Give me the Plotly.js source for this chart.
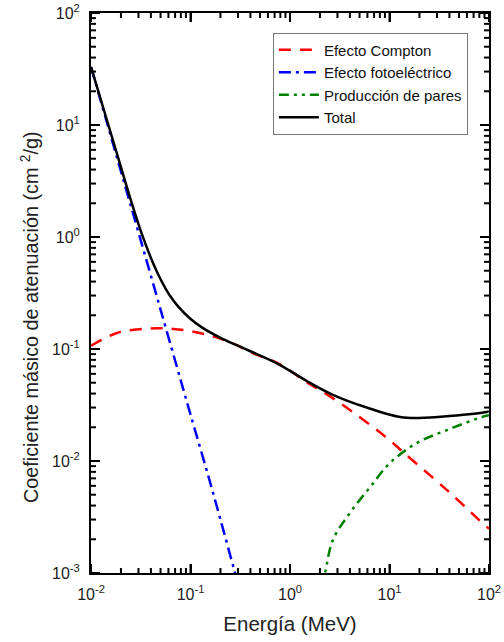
<!DOCTYPE html>
<html>
<head>
<meta charset="utf-8">
<script src="https://cdn.plot.ly/plotly-3.0.1.min.js"></script>
<style>html,body{margin:0;padding:0;background:#fff;}#chart{width:504px;height:642px;}</style>
</head>
<body>
<div id="chart"></div>
<script>
// Energy (MeV) and mass attenuation coefficients (cm^2/g)
const comptonE = [0.01, 0.0182, 0.03, 0.045, 0.067, 0.124, 0.25, 0.4, 0.79, 1.5, 2.0, 3.4, 10, 13.7, 37.8, 95, 100];
const comptonV = [0.107, 0.139, 0.150, 0.153, 0.151, 0.139, 0.115, 0.094, 0.073, 0.050, 0.043, 0.0316, 0.0154, 0.012, 0.0055, 0.00258, 0.0025];

const photoE = [0.01, 0.015, 0.02, 0.03, 0.05, 0.08, 0.1, 0.15, 0.2, 0.3];
const photoV = [33, 9.4, 3.85, 1.1, 0.225, 0.052, 0.026, 0.0075, 0.0030, 0.0008];

const pairE = [1.8, 2.25, 2.7, 4.0, 6.4, 10.1, 18.9, 37.8, 85, 100];
const pairV = [0.0004, 0.001, 0.00197, 0.00344, 0.00586, 0.0096, 0.0145, 0.0189, 0.0247, 0.0256];

const totalE = [0.01, 0.015, 0.02, 0.025, 0.0326, 0.042, 0.05, 0.062, 0.075, 0.099, 0.13, 0.198, 0.3, 0.40, 0.74, 1.52, 2.7, 5.9, 12.8, 20, 40, 95, 100];
const totalV = [33, 9.9, 4.2, 2.17, 1.05, 0.586, 0.42, 0.30, 0.24, 0.187, 0.156, 0.1265, 0.107, 0.0955, 0.0745, 0.051, 0.039, 0.030, 0.0247, 0.0242, 0.0252, 0.0274, 0.0278];

const names = ['Efecto Compton', 'Efecto fotoeléctrico', 'Producción de pares', 'Total'];

const xTickVals = [0.01, 0.1, 1, 10, 100];
const xTickText = ['10<sup>-2</sup>', '10<sup>-1</sup>', '10<sup>0</sup>', '10<sup>1</sup>', '10<sup>2</sup>'];
const yTickVals = [0.001, 0.01, 0.1, 1, 10, 100];
const yTickText = ['10<sup>-3</sup>', '10<sup>-2</sup>', '10<sup>-1</sup>', '10<sup>0</sup>', '10<sup>1</sup>', '10<sup>2</sup>'];

const yTitle = 'Coeficiente másico de atenuación (cm <sup>2</sup>/g)';
const xTitle = 'Energía (MeV)';

const xRange = [-2, 2];
const yRange = [-3, 2];

function minorVals(lo, hi) {
  const out = [];
  for (let p = lo; p < hi; p++) for (let m = 2; m <= 9; m++) out.push(m * Math.pow(10, p));
  return out;
}

const traces = [
  {x: comptonE, y: comptonV, name: names[0], mode: 'lines', line: {color: '#ff0000', width: 2.5, dash: '12px,9px', shape: 'spline'}},
  {x: photoE, y: photoV, name: names[1], mode: 'lines', line: {color: '#0000ff', width: 2.5, dash: '12px,5px,3px,5px', shape: 'spline'}},
  {x: pairE, y: pairV, name: names[2], mode: 'lines', line: {color: '#008000', width: 2.5, dash: '10px,5px,3px,5px,3px,5px', shape: 'spline'}},
  {x: totalE, y: totalV, name: names[3], mode: 'lines', line: {color: '#000000', width: 2.5, shape: 'spline'}}
];

const font = 'Liberation Sans, Arial, sans-serif';
const axisCommon = {
  type: 'log',
  tickmode: 'array',
  showgrid: false,
  zeroline: false,
  showline: true,
  linecolor: '#000',
  linewidth: 2,
  mirror: 'ticks',
  ticks: 'inside',
  ticklen: 9,
  tickwidth: 2,
  tickcolor: '#000',
  ticklabelstandoff: 6,
  tickfont: {family: font, size: 16, color: '#222'}
};

// tick marks (axis furniture), positioned as fractions of the log axes
const plotW = 398, plotH = 560;
const tickLine = {color: '#000000', width: 2};
const shapes = [];
function xFrac(v) { return (Math.log10(v) - xRange[0]) / (xRange[1] - xRange[0]); }
function yFrac(v) { return (Math.log10(v) - yRange[0]) / (yRange[1] - yRange[0]); }
function addX(v, len) {
  const f = xFrac(v);
  shapes.push({type: 'rect', xref: 'paper', yref: 'paper', x0: f - 1 / plotW, x1: f + 1 / plotW, y0: 0, y1: len / plotH, fillcolor: '#000', line: {width: 0}, layer: 'above'});
  shapes.push({type: 'rect', xref: 'paper', yref: 'paper', x0: f - 1 / plotW, x1: f + 1 / plotW, y0: 1, y1: 1 - len / plotH, fillcolor: '#000', line: {width: 0}, layer: 'above'});
}
function addY(v, len) {
  const f = yFrac(v);
  shapes.push({type: 'rect', xref: 'paper', yref: 'paper', x0: 0, x1: len / plotW, y0: f - 1 / plotH, y1: f + 1 / plotH, fillcolor: '#000', line: {width: 0}, layer: 'above'});
  shapes.push({type: 'rect', xref: 'paper', yref: 'paper', x0: 1, x1: 1 - len / plotW, y0: f - 1 / plotH, y1: f + 1 / plotH, fillcolor: '#000', line: {width: 0}, layer: 'above'});
}
minorVals(xRange[0], xRange[1]).forEach(v => addX(v, 5));
minorVals(yRange[0], yRange[1]).forEach(v => addY(v, 5));
xTickVals.forEach(v => addX(v, 9));
yTickVals.forEach(v => addY(v, 9));

const layout = {
  width: 504,
  height: 642,
  margin: {l: 91, r: 15, t: 13, b: 69},
  paper_bgcolor: '#fff',
  plot_bgcolor: '#fff',
  showlegend: true,
  legend: {
    x: 0.457, y: 0.965, xanchor: 'left', yanchor: 'top',
    bgcolor: '#fff', bordercolor: '#777', borderwidth: 1,
    font: {family: font, size: 15, color: '#111'},
    tracegroupgap: 0, itemwidth: 40
  },
  xaxis: Object.assign({}, axisCommon, {
    range: xRange,
    tickvals: xTickVals, ticktext: xTickText,
    title: {text: xTitle, font: {family: font, size: 20.5, color: '#222'}, standoff: 14}
  }),
  yaxis: Object.assign({}, axisCommon, {
    range: yRange,
    tickvals: yTickVals, ticktext: yTickText
  }),
  shapes: shapes,
  annotations: [{
    text: yTitle, textangle: -90, showarrow: false,
    xref: 'paper', yref: 'paper', x: 0, y: 0.5, xshift: -62, yshift: -24, xanchor: 'center', yanchor: 'middle',
    font: {family: font, size: 19.8, color: '#222'}
  }]
};

Plotly.newPlot('chart', traces, layout, {displayModeBar: false});
</script>
</body>
</html>
